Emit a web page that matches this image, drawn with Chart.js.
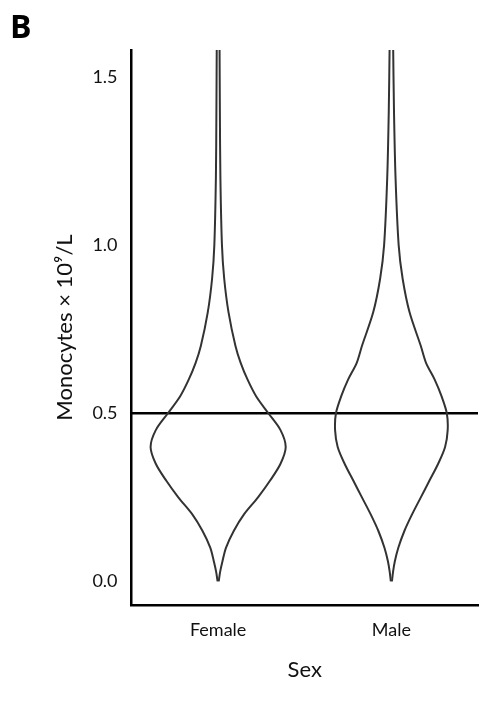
<!DOCTYPE html>
<html><head><meta charset="utf-8">
<script src="https://cdn.jsdelivr.net/npm/chart.js@4"></script>
<style>body{margin:0;background:#fff}#wrap{position:relative;width:495px;height:710px}
#lab{position:absolute;left:10px;top:4px;font:bold 32px "Open Sans",sans-serif}</style>
</head><body><div id="wrap"><div id="lab">B</div><canvas id="c" width="495" height="710"></canvas></div>
<script>
const categories = ['Female', 'Male'];
const levels = [0, 0.03, 0.06, 0.1, 0.15, 0.2, 0.25, 0.3, 0.35, 0.4, 0.45, 0.5, 0.55, 0.6, 0.65, 0.7, 0.8, 0.9, 1.0, 1.2, 1.4, 1.6];
// half widths in category units
const femaleWidth = [0.003, 0.012, 0.025, 0.045, 0.09, 0.15, 0.23, 0.3, 0.36, 0.39, 0.36, 0.29, 0.22, 0.17, 0.13, 0.1, 0.06, 0.035, 0.022, 0.013, 0.01, 0.008];
const maleWidth = [0.003, 0.01, 0.02, 0.04, 0.075, 0.12, 0.17, 0.22, 0.27, 0.31, 0.325, 0.32, 0.29, 0.25, 0.2, 0.17, 0.105, 0.065, 0.042, 0.024, 0.015, 0.01];
const colors = ['#c8102e', '#0f4c81'];
const refLine = 0.5;

function edge(i, w, sign) {
  return levels.map((y, k) => ({ x: i + sign * w[k], y: y }));
}
const datasets = [];
[femaleWidth, maleWidth].forEach((w, i) => {
  datasets.push({ data: edge(i, w, -1), pointRadius: 0, borderColor: '#333', borderWidth: 2, tension: 0.3, fill: false, backgroundColor: colors[i] });
  datasets.push({ data: edge(i, w, 1), pointRadius: 0, borderColor: '#333', borderWidth: 2, tension: 0.3, fill: '-1', backgroundColor: colors[i] });
});
datasets.push({ data: [{ x: -0.5, y: refLine }, { x: 1.5, y: refLine }], pointRadius: 0, borderColor: '#000', borderWidth: 2.5, fill: false });

new Chart(document.getElementById('c'), {
  type: 'line',
  data: { datasets: datasets },
  options: {
    responsive: false, animation: false,
    layout: { padding: { top: 50, right: 17, bottom: 23, left: 48 } },
    plugins: { legend: { display: false }, tooltip: { enabled: false } },
    scales: {
      x: {
        type: 'linear', min: -0.5, max: 1.5,
        afterBuildTicks: s => { s.ticks = [{ value: 0 }, { value: 1 }]; },
        ticks: { callback: v => categories[v], color: '#111', font: { family: 'Lato', size: 18 }, padding: 6 },
        grid: { display: false, drawTicks: true, tickLength: 8, tickColor: '#000' },
        border: { color: '#000', width: 2.5 },
        title: { display: true, text: 'Sex', color: '#111', font: { family: 'Liberation Sans Narrow, Lato', size: 22 }, padding: { top: 10 } }
      },
      y: {
        min: -0.07, max: 1.58,
        afterBuildTicks: s => { s.ticks = [0, 0.5, 1, 1.5].map(v => ({ value: v })); },
        ticks: { callback: v => v.toFixed(1), color: '#111', font: { family: 'Lato', size: 18 }, padding: 6 },
        grid: { display: false, drawTicks: true, tickLength: 8, tickColor: '#000' },
        border: { color: '#000', width: 2.5 },
        title: { display: true, text: 'Monocytes × 10⁹/L', color: '#111', font: { family: 'Liberation Sans Narrow, Lato', size: 22 }, padding: { bottom: 8 } }
      }
    }
  }
});
</script></body></html>
